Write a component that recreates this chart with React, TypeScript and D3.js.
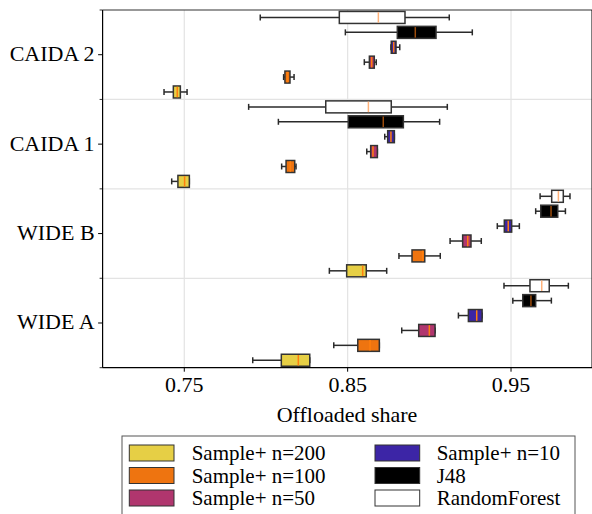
import React from "react";
import * as d3 from "d3";

// Categories, top to bottom
const categories = ["CAIDA 2", "CAIDA 1", "WIDE B", "WIDE A"];
const xTicks = [0.75, 0.85, 0.95];
const xLabel = "Offloaded share";

// Series (box order within each group, top to bottom)
const seriesNames = ["RandomForest", "J48", "Sample+ n=10", "Sample+ n=50", "Sample+ n=100", "Sample+ n=200"];

// Each entry: [whiskerLow, q1, median, q3, whiskerHigh] per category (CAIDA 2, CAIDA 1, WIDE B, WIDE A)
const randomForest = [
  [0.7965, 0.8449, 0.8688, 0.8851, 0.9122],
  [0.7894, 0.8366, 0.8627, 0.8767, 0.911],
  [0.9678, 0.9749, 0.979, 0.982, 0.9861],
  [0.9457, 0.9616, 0.9688, 0.9734, 0.9851],
];
const j48 = [
  [0.8486, 0.8804, 0.8914, 0.9041, 0.9263],
  [0.8076, 0.8504, 0.8718, 0.8841, 0.9063],
  [0.9651, 0.9682, 0.9745, 0.9786, 0.9833],
  [0.9511, 0.9572, 0.9622, 0.9651, 0.9747],
];
const sample10 = [
  [0.8765, 0.8767, 0.8782, 0.8796, 0.8819],
  [0.8727, 0.8745, 0.8765, 0.8786, 0.8786],
  [0.9416, 0.9459, 0.9483, 0.9504, 0.9551],
  [0.9178, 0.9239, 0.929, 0.9323, 0.9323],
];
const sample50 = [
  [0.8602, 0.8633, 0.8647, 0.8663, 0.8675],
  [0.8617, 0.8641, 0.8655, 0.8682, 0.8682],
  [0.9127, 0.9204, 0.9235, 0.9255, 0.9318],
  [0.8831, 0.8935, 0.9, 0.9035, 0.9035],
];
const sample100 = [
  [0.8108, 0.8116, 0.8131, 0.8147, 0.8172],
  [0.8096, 0.8123, 0.8149, 0.8176, 0.8184],
  [0.8814, 0.8894, 0.8959, 0.8972, 0.9067],
  [0.8415, 0.8562, 0.8637, 0.8694, 0.8694],
];
const sample200 = [
  [0.7376, 0.7433, 0.7457, 0.7476, 0.7517],
  [0.7423, 0.7461, 0.7502, 0.7531, 0.7531],
  [0.8388, 0.8494, 0.8592, 0.8614, 0.8739],
  [0.7919, 0.8094, 0.8198, 0.8268, 0.8268],
];
const seriesData = [randomForest, j48, sample10, sample50, sample100, sample200];

// Styles
const fills = ["#ffffff", "#000000", "#3c25a6", "#b0366e", "#ee7410", "#e6cf45"];
const medianColors = ["#ffb27a", "#9c4c0c", "#ff7f0e", "#ff7f0e", "#ff7f0e", "#ff7f0e"];

// Legend order (column-major, 3 rows)
const legendOrder = [5, 4, 3, 2, 1, 0];

const FONT = "Liberation Serif, Tinos, Times New Roman, serif";
const FS = 22;
const textStyle: React.CSSProperties = { fontFamily: FONT, fontSize: FS };
const legendStyle: React.CSSProperties = { fontFamily: FONT, fontSize: 21 };

export default function App() {
  const W = 592, H = 514;
  const x = d3.scaleLinear().domain([0.7, 1.0]).range([102.6, 592.7]);
  const y = d3.scaleBand<string>().domain(categories).range([10, 367.7]).padding(0);
  const bw = y.bandwidth();
  const step = bw / 6;
  const boxH = 12;
  const capH = 6;
  const plotL = x(0.7), plotR = x(1.0), plotT = 10, plotB = 367.7;
  const boundaries = d3.range(categories.length + 1).map((i) => plotT + i * bw);
  const stroke = "#2a2a2a";

  return (
    <svg width={W} height={H} style={{ position: "absolute", left: 0, top: 0, background: "#fff" }}>
      {/* grid */}
      {xTicks.map((t) => (
        <line key={"gx" + t} x1={x(t)} x2={x(t)} y1={plotT} y2={plotB} stroke="#e3e3e3" strokeWidth={1.2} />
      ))}
      {boundaries.slice(1, -1).map((b, i) => (
        <line key={"gy" + i} x1={plotL} x2={plotR} y1={b} y2={b} stroke="#e3e3e3" strokeWidth={1.2} />
      ))}

      {/* boxes */}
      {categories.map((cat, ci) => {
        const c0 = y(cat)!;
        return seriesData.map((s, si) => {
          const [lo, q1, med, q3, hi] = s[ci];
          const cy = c0 + step * (si + 0.5);
          return (
            <g key={cat + si}>
              <line x1={x(lo)} x2={x(q1)} y1={cy} y2={cy} stroke={stroke} strokeWidth={1.5} />
              <line x1={x(q3)} x2={x(hi)} y1={cy} y2={cy} stroke={stroke} strokeWidth={1.5} />
              <line x1={x(lo)} x2={x(lo)} y1={cy - capH / 2} y2={cy + capH / 2} stroke={stroke} strokeWidth={1.5} />
              <line x1={x(hi)} x2={x(hi)} y1={cy - capH / 2} y2={cy + capH / 2} stroke={stroke} strokeWidth={1.5} />
              <rect x={x(q1)} y={cy - boxH / 2} width={Math.max(0, x(q3) - x(q1))} height={boxH} fill={fills[si]} stroke="#333" strokeWidth={1.5} />
              <line x1={x(med)} x2={x(med)} y1={cy - boxH / 2 + 0.75} y2={cy + boxH / 2 - 0.75} stroke={medianColors[si]} strokeWidth={1.5} />
            </g>
          );
        });
      })}

      {/* spines */}
      <line x1={plotL} x2={plotL} y1={plotT} y2={plotB} stroke="#000" strokeWidth={1.2} />
      <line x1={plotL} x2={plotR} y1={plotB} y2={plotB} stroke="#000" strokeWidth={1.2} />
      <line x1={plotL} x2={plotR} y1={plotT} y2={plotT} stroke="#333" strokeWidth={1.2} />
      <line x1={plotR - 0.6} x2={plotR - 0.6} y1={plotT} y2={plotB} stroke="#000" strokeWidth={1.2} />

      {/* x ticks */}
      {xTicks.map((t) => (
        <g key={"xt" + t}>
          <line x1={x(t)} x2={x(t)} y1={plotB} y2={plotB + 4} stroke="#000" strokeWidth={1} />
          <text x={x(t)} y={391.5} style={textStyle} textAnchor="middle" fill="#000">
            {d3.format(".2f")(t)}
          </text>
        </g>
      ))}
      <text x={347} y={422} style={textStyle} textAnchor="middle" fill="#000">
        {xLabel}
      </text>

      {/* y ticks */}
      {categories.map((cat) => {
        const cy = y(cat)! + bw / 2;
        return (
          <g key={"yt" + cat}>
            <line x1={plotL - 4.5} x2={plotL} y1={cy} y2={cy} stroke="#000" strokeWidth={1} />
            <text x={plotL - 8} y={cy + 6.5} style={textStyle} textAnchor="end" fill="#000">
              {cat}
            </text>
          </g>
        );
      })}
      {boundaries.map((b, i) => (
        <line key={"ym" + i} x1={plotL - 3} x2={plotL} y1={b} y2={b} stroke="#000" strokeWidth={0.8} />
      ))}

      {/* legend */}
      <rect x={122} y={436} width={453} height={90} fill="#fff" stroke="#555" strokeWidth={1} />
      {legendOrder.map((si, k) => {
        const col = Math.floor(k / 3);
        const row = k % 3;
        const px = col === 0 ? 129.3 : 375;
        const tx = col === 0 ? 191.7 : 436.7;
        const cy = 453 + row * 22.5;
        return (
          <g key={"lg" + si}>
            <rect x={px} y={cy - 8} width={44.7} height={16} fill={fills[si]} stroke="#333" strokeWidth={1} />
            <text x={tx} y={cy + 7} style={legendStyle} fill="#000">
              {seriesNames[si]}
            </text>
          </g>
        );
      })}
    </svg>
  );
}
